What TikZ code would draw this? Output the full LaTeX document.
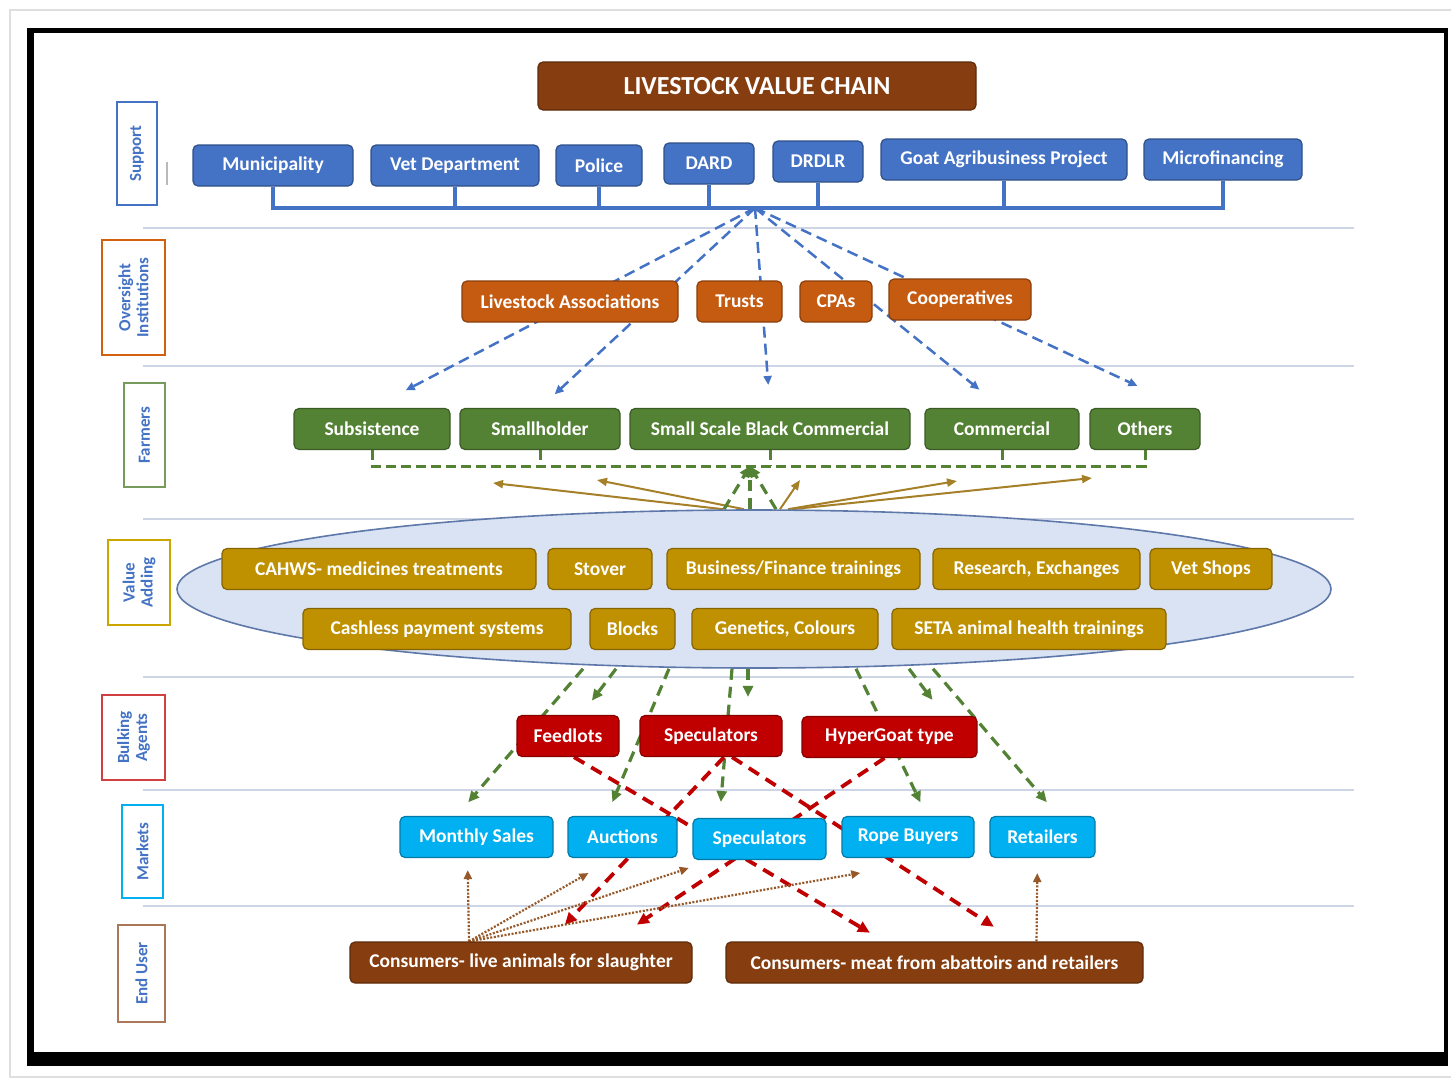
\documentclass[tikz,border=0pt]{standalone}
\usepackage{fontspec}
\setmainfont{Carlito}
\usepackage{tikz}
\usetikzlibrary{positioning, arrows.meta, calc, shapes.geometric, backgrounds}
\definecolor{supBlue}{RGB}{68,114,196}
\definecolor{ovOrange}{RGB}{197,90,17}
\definecolor{farmGreen}{RGB}{84,130,53}
\definecolor{valGold}{RGB}{191,144,0}
\definecolor{bulkRed}{RGB}{192,0,0}
\definecolor{mktCyan}{RGB}{0,176,240}
\definecolor{userBrown}{RGB}{134,62,16}
\definecolor{ellFill}{RGB}{218,227,243}
\definecolor{ellLine}{RGB}{95,120,170}
\definecolor{sepGray}{RGB}{205,213,230}
\definecolor{arrGold}{RGB}{165,128,40}
\definecolor{dotBrown}{RGB}{150,88,40}

\begin{document}
\begin{tikzpicture}[
    x=1pt, y=-1pt,
    every node/.style={text=white},
    chainbox/.style={rounded corners=5pt, line width=1.2pt, minimum height=41pt,
        inner sep=2pt, font=\bfseries\fontsize{19.5}{24}\selectfont},
    supbox/.style={chainbox, fill=supBlue, draw=supBlue!70!black},
    ovbox/.style={chainbox, fill=ovOrange, draw=ovOrange!70!black},
    farmbox/.style={chainbox, fill=farmGreen, draw=farmGreen!70!black},
    valbox/.style={chainbox, fill=valGold, draw=valGold!70!black},
    bulkbox/.style={chainbox, fill=bulkRed, draw=bulkRed!70!black},
    mktbox/.style={chainbox, fill=mktCyan, draw=mktCyan!70!black},
    userbox/.style={chainbox, fill=userBrown, draw=userBrown!70!black},
    sidelabel/.style={rotate=90, line width=1.4pt, fill=white, text=supBlue,
        align=center, inner sep=1pt, font=\bfseries\fontsize{17}{18}\selectfont},
    sepline/.style={sepGray, line width=1.8pt},
    supline/.style={supBlue, line width=3.2pt},
    bluedash/.style={supBlue, line width=2.5pt, dash pattern=on 11pt off 6pt,
        -{Triangle[length=9pt, width=8pt]}},
    greenbr/.style={farmGreen, line width=3pt, dash pattern=on 10pt off 5pt},
    greenarr/.style={farmGreen, line width=3.2pt, dash pattern=on 11pt off 7pt,
        -{Triangle[length=11pt, width=10pt]}},
    goldarr/.style={arrGold, line width=2pt, -{Triangle[length=10pt, width=8pt]}},
    reddash/.style={bulkRed, line width=3.8pt, dash pattern=on 12pt off 8pt,
        -{Triangle[length=12pt, width=11pt]}},
    browndot/.style={dotBrown, line width=2.2pt, dash pattern=on 2pt off 1.6pt,
        -{Triangle[length=9pt, width=8pt]}},
]
% Canvas: one unit = one pixel of the 1451 x 1080 page
\useasboundingbox (0,0) rectangle (1451,1080);

% --- Title ---
\node[chainbox, fill=userBrown, draw=userBrown!70!black, minimum width=438pt,
    minimum height=48pt, font=\bfseries\fontsize{26}{30}\selectfont]
    (title) at (757,86) {LIVESTOCK VALUE CHAIN};

% --- Row labels on the left ---
\node[sidelabel, draw=supBlue, minimum width=103pt, minimum height=40pt]
    (lsup) at (137,153.5) {Support};
\node[sidelabel, draw=ovOrange!80!orange, minimum width=115pt, minimum height=63pt]
    (lov) at (133.5,297.5) {Oversight\\Institutions};
\node[sidelabel, draw=farmGreen!80!white, minimum width=104pt, minimum height=41pt]
    (lfarm) at (144.5,435) {Farmers};
\node[sidelabel, draw=valGold!80!yellow, minimum width=85pt, minimum height=62pt]
    (lval) at (139,582.5) {Value\\Adding};
\node[sidelabel, draw=bulkRed!75!white, minimum width=85pt, minimum height=63pt]
    (lbulk) at (133.5,737.5) {Bulking\\Agents};
\node[sidelabel, draw=mktCyan, minimum width=93pt, minimum height=41pt]
    (lmkt) at (142.5,851.5) {Markets};
\node[sidelabel, draw=userBrown!70!white, minimum width=97pt, minimum height=47pt]
    (luser) at (141.5,973.5) {End User};
\draw[gray!55, line width=1.5pt] (167,162) -- (167,185);

% --- Support ---
\node[supbox, minimum width=160pt] (mun)   at (273,165.5)  {Municipality};
\node[supbox, minimum width=168pt] (vet)   at (455,165.5)  {Vet Department};
\node[supbox, minimum width=86pt]  (pol)   at (599,165.5)  {Police};
\node[supbox, minimum width=90pt]  (dard)  at (709,163.5)  {DARD};
\node[supbox, minimum width=90pt]  (drd)   at (818,161.5)  {DRDLR};
\node[supbox, minimum width=246pt] (goat)  at (1004,159.5) {Goat Agribusiness Project};
\node[supbox, minimum width=158pt] (micro) at (1223,159.5) {Microfinancing};

\coordinate (hub) at (755,208);
\draw[supline] (mun.south) -- (mun.south |- hub) -- (micro.south |- hub) -- (micro.south);
\foreach \n in {vet, pol, dard, drd, goat} {
    \draw[supline] (\n.south) -- (\n.south |- hub);
}

% --- Oversight institutions ---
\node[ovbox, minimum width=216pt] (la)   at (570,301.5)   {Livestock Associations};
\node[ovbox, minimum width=85pt]  (tru)  at (739.5,301.5) {Trusts};
\node[ovbox, minimum width=72pt]  (cpa)  at (836,301.5)   {CPAs};
\node[ovbox, minimum width=142pt] (coop) at (960,299.5)   {Cooperatives};

% --- Farmers ---
\node[farmbox, minimum width=156pt] (subs)  at (372,429)  {Subsistence};
\node[farmbox, minimum width=160pt] (small) at (540,429)  {Smallholder};
\node[farmbox, minimum width=280pt] (ssbc)  at (770,429)  {Small Scale Black Commercial};
\node[farmbox, minimum width=154pt] (comm)  at (1002,429) {Commercial};
\node[farmbox, minimum width=110pt] (oth)   at (1145,429) {Others};

\coordinate (fhub) at (750,466);
\draw[greenbr] (subs.south) -- (subs.south |- fhub) -- (oth.south |- fhub) -- (oth.south);
\foreach \n in {small, ssbc, comm} {
    \draw[greenbr] (\n.south) -- (\n.south |- fhub);
}

% --- Value adding (ellipse + services) ---
\node[ellipse, fill=ellFill, draw=ellLine, line width=1.6pt, minimum width=1154pt,
    minimum height=158pt, inner sep=0pt] (va) at (754,589) {};

\node[valbox, minimum width=314pt] (cahws) at (379,569)    {CAHWS- medicines treatments};
\node[valbox, minimum width=104pt] (stov)  at (600,569)    {Stover};
\node[valbox, minimum width=253pt] (bus)   at (793.5,569)  {Business/Finance trainings};
\node[valbox, minimum width=207pt] (res)   at (1036.5,569) {Research, Exchanges};
\node[valbox, minimum width=122pt] (vshop) at (1211,569)   {Vet Shops};
\node[valbox, minimum width=268pt] (cash)  at (437,629)    {Cashless payment systems};
\node[valbox, minimum width=85pt]  (blk)   at (632.5,629)  {Blocks};
\node[valbox, minimum width=186pt] (gen)   at (785,629)    {Genetics, Colours};
\node[valbox, minimum width=274pt] (seta)  at (1029,629)   {SETA animal health trainings};

% --- Bulking agents ---
\node[bulkbox, minimum width=102pt] (feed)  at (568,736)   {Feedlots};
\node[bulkbox, minimum width=142pt] (specb) at (711,736)   {Speculators};
\node[bulkbox, minimum width=175pt] (hyper) at (889.5,737) {HyperGoat type};

% --- Markets ---
\node[mktbox, minimum width=153pt] (month) at (476.5,837)  {Monthly Sales};
\node[mktbox, minimum width=109pt] (auc)   at (622.5,837)  {Auctions};
\node[mktbox, minimum width=133pt] (specm) at (759.5,839)  {Speculators};
\node[mktbox, minimum width=132pt] (rope)  at (908,837)    {Rope Buyers};
\node[mktbox, minimum width=105pt] (ret)   at (1042.5,837) {Retailers};

% --- End users ---
\node[userbox, minimum width=342pt] (cons1) at (521,962.5)   {Consumers- live animals for slaughter};
\node[userbox, minimum width=417pt] (cons2) at (934.5,962.5) {Consumers- meat from abattoirs and retailers};

% --- Connectors, kept behind the boxes ---
\begin{scope}[on background layer]
    \fill[white] (0,0) rectangle (1451,1080);
    \foreach \y in {228, 366, 519, 677, 790, 906} {
        \draw[sepline] (143,\y) -- (1354,\y);
    }

    % support hub -> farmers, through the institutions
    \draw[bluedash, shorten >=38pt] (hub) -- (subs.north);
    \draw[bluedash, shorten >=20pt] (hub) -- (small.north);
    \draw[bluedash, shorten >=23pt] (hub) -- (ssbc.north);
    \draw[bluedash, shorten >=29pt] (hub) -- (comm.north);
    \draw[bluedash, shorten >=52pt] (hub) -- ([xshift=-16pt]oth.north east);

    % value adding -> farmers
    \coordinate (gsubs)  at (493,483);
    \coordinate (gsmall) at (597,480);
    \coordinate (gssbc)  at (800,480);
    \coordinate (gcomm)  at (957,481);
    \coordinate (goth)   at (1092,478);
    \draw[goldarr] ([xshift=-31pt]va.north) -- (gsubs);
    \draw[goldarr] ([xshift=-10pt]va.north) -- (gsmall);
    \draw[goldarr] ([xshift=26pt]va.north)  -- (gssbc);
    \draw[goldarr] ([xshift=34pt]va.north)  -- (gcomm);
    \draw[goldarr] ([xshift=38pt]va.north)  -- (goth);
    \draw[greenarr] ([xshift=-30pt]va.north) -- (fhub);
    \draw[greenarr] ([xshift=-4pt]va.north)  -- (fhub);
    \draw[greenarr] ([xshift=22pt]va.north)  -- (fhub);

    % value adding -> bulking agents and markets
    \draw[greenarr, shorten >=18pt] ([xshift=-171pt]va.south) -- ([xshift=-20pt]month.north);
    \draw[greenarr, shorten >=18pt] ([xshift=-138pt]va.south) -- ([xshift=13pt]feed.north);
    \draw[greenarr, shorten >=15pt] ([xshift=-85pt]va.south)  -- ([xshift=-16pt]auc.north);
    \draw[greenarr, shorten >=16pt] ([xshift=-22pt]va.south)  -- ([xshift=-40pt]specm.north);
    \draw[greenarr, shorten >=18pt] ([xshift=-6pt]va.south)   -- ([xshift=37pt]specb.north);
    \draw[greenarr, shorten >=15pt] ([xshift=102pt]va.south)  -- ([xshift=19pt]rope.north);
    \draw[greenarr, shorten >=20pt] ([xshift=155pt]va.south)  -- ([xshift=55pt]hyper.north);
    \draw[greenarr, shorten >=18pt] ([xshift=179pt]va.south)  -- ([xshift=16pt]ret.north);

    % bulking agents -> end users
    \draw[reddash, shorten >=17pt] ([xshift=6pt]feed.south)   -- ([xshift=-50pt]cons2.north);
    \draw[reddash, shorten >=23pt] ([xshift=13pt]specb.south) -- ([xshift=28pt]cons1.north);
    \draw[reddash, shorten >=27pt] ([xshift=21pt]specb.south) -- ([xshift=82pt]cons2.north);
    \draw[reddash, shorten >=30pt] ([xshift=-5pt]hyper.south) -- ([xshift=91pt]cons1.north);

    % end users -> markets
    \draw[browndot, shorten >=12pt] ([xshift=-52pt]cons1.north) -- ([xshift=-9pt]month.south);
    \draw[browndot, shorten >=30pt] ([xshift=-52pt]cons1.north) -- ([xshift=-8pt]auc.south);
    \draw[browndot, shorten >=25pt] ([xshift=-52pt]cons1.north) -- ([xshift=-47pt]specm.south);
    \draw[browndot, shorten >=86pt] ([xshift=-52pt]cons1.north) -- ([xshift=37pt]rope.south);
    \draw[browndot, shorten >=15pt] ([xshift=102pt]cons2.north) -- ([xshift=-5pt]ret.south);
\end{scope}

% --- Frame ---
\draw[gray!25, line width=1.5pt] (10,10) rectangle (1470,1077);
\fill[black] (27,28) rectangle (34,1066);
\fill[black] (27,28) rectangle (1448,33);
\fill[black] (1444,28) rectangle (1448,1066);
\fill[black] (27,1052) rectangle (1448,1066);

\end{tikzpicture}
\end{document}
